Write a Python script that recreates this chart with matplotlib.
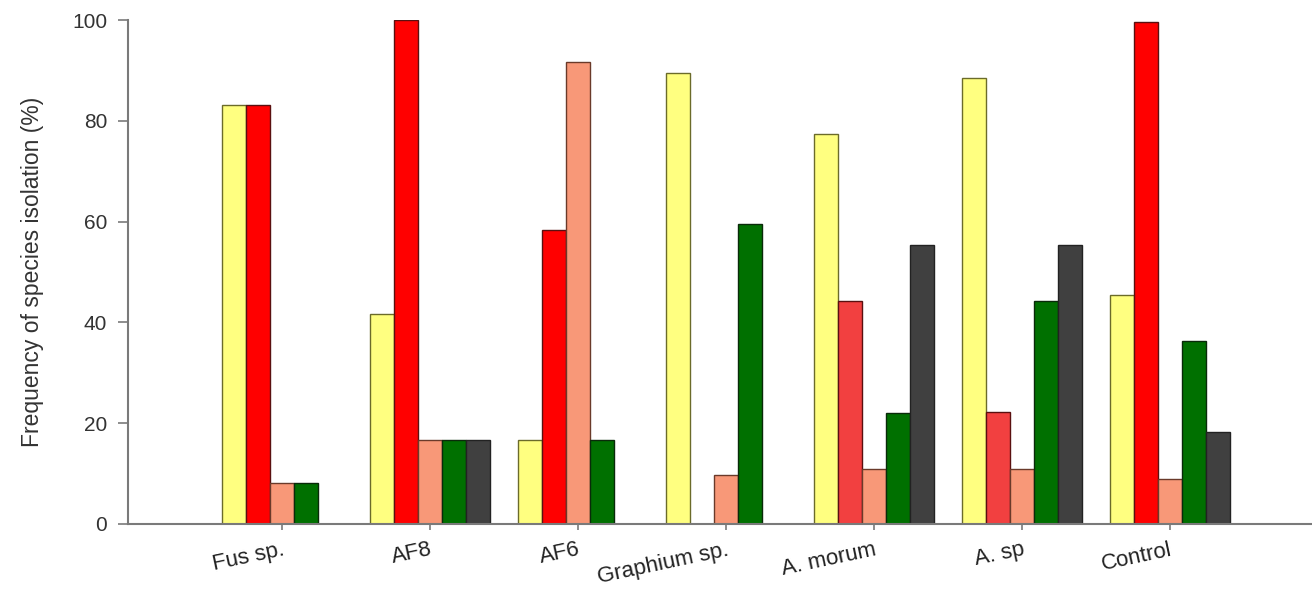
import matplotlib
matplotlib.use("Agg")
import matplotlib.pyplot as plt
import numpy as np

# groups along the x axis
groups = ["Fus sp.", "AF8", "AF6", "Graphium sp.", "A. morum", "A. sp", "Control"]

# five series per group (0 = no bar)
yellow = [83.2, 41.7, 16.7, 89.5, 77.3, 88.5, 45.4]
red = [83.2, 100.0, 58.3, 0.0, 44.3, 22.2, 99.6]
salmon = [8.2, 16.7, 91.7, 9.8, 10.9, 10.9, 8.9]
green = [8.2, 16.7, 16.7, 59.5, 22.0, 44.3, 36.3]
dark = [0.0, 16.7, 0.0, 0.0, 55.3, 55.4, 18.2]

series = [yellow, red, salmon, green, dark]
fills = ["#ffff80", "#ff0000", "#f89878", "#007000", "#404040"]
# the red bars of A. morum and A. sp are a lighter red
red_fills = ["#ff0000", "#ff0000", "#ff0000", "#ff0000", "#f24040", "#f24040", "#ff0000"]
edges = ["#6b6b2a", "#5a1010", "#6a3a2a", "#0a2a0a", "#222222"]

plt.rcParams['font.family'] = ['Liberation Sans', 'DejaVu Sans']

fig = plt.figure(figsize=(13.12, 5.91), dpi=100)
ax = fig.add_axes([0.0976, 0.1134, 0.9024, 0.8526])

x = np.arange(len(groups))
width = 0.163
for k, vals in enumerate(series):
    offs = (k - 2) * width
    colors = red_fills if k == 1 else [fills[k]] * len(groups)
    for i, v in enumerate(vals):
        if v <= 0:
            continue
        ax.bar(x[i] + offs, v, width, color=colors[i], edgecolor=edges[k], linewidth=1.0)

ax.set_xlim(-1.04, 6.96)
ax.set_ylim(0, 100)
ax.set_yticks([0, 20, 40, 60, 80, 100])
ax.set_xticks(x)
ax.set_xticklabels(groups, rotation=12, ha='right', rotation_mode='anchor')

for s in ["top", "right"]:
    ax.spines[s].set_visible(False)
for s in ["left", "bottom"]:
    ax.spines[s].set_color("#7a7a7a")
    ax.spines[s].set_linewidth(1.5)

ax.tick_params(axis='y', direction='out', length=7, width=1.2, color="#7a7a7a",
               labelsize=15, labelcolor="#333333", pad=8)
ax.tick_params(axis='x', direction='out', length=4, width=1.2, color="#7a7a7a",
               labelsize=16, labelcolor="#222222", pad=7)

ax.set_ylabel("Frequency of species isolation (%)", fontsize=16.5, color="#333333", labelpad=20)

fig.savefig("out.png", dpi=100)
